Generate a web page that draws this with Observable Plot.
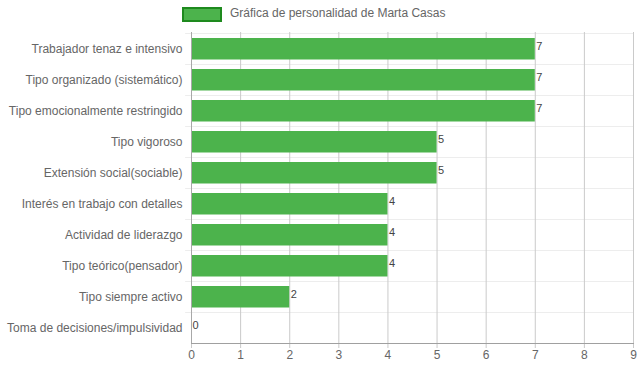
<!DOCTYPE html>
<html>
<head>
<meta charset="utf-8">
<script src="https://cdn.jsdelivr.net/npm/d3@7"></script>
<script src="https://cdn.jsdelivr.net/npm/@observablehq/plot@0.6"></script>
<style>
  body { margin: 0; background: #fff; font-family: "Liberation Sans", Arial, sans-serif; }
  #wrap { position: relative; width: 639px; height: 372px; }
  #legend { position: absolute; left: 0; top: 0; width: 639px; height: 30px; }
  #legend .box { position: absolute; left: 182px; top: 7px; width: 36px; height: 11px; background: #4cb34c; border: 2px solid #1e8a1e; }
  #legend .lbl { position: absolute; left: 230px; top: 6px; font-size: 12px; color: #666; white-space: nowrap; }
  #chart { position: absolute; left: 0; top: 30px; }
</style>
</head>
<body>
<div id="wrap">
  <div id="legend"><div class="box"></div><div class="lbl">Gráfica de personalidad de Marta Casas</div></div>
  <div id="chart"></div>
</div>
<script>
const categories = [
  "Trabajador tenaz e intensivo",
  "Tipo organizado (sistemático)",
  "Tipo emocionalmente restringido",
  "Tipo vigoroso",
  "Extensión social(sociable)",
  "Interés en trabajo con detalles",
  "Actividad de liderazgo",
  "Tipo teórico(pensador)",
  "Tipo siempre activo",
  "Toma de decisiones/impulsividad"
];
const values = [7, 7, 7, 5, 5, 4, 4, 4, 2, 0];
const xTicks = [0, 1, 2, 3, 4, 5, 6, 7, 8, 9];

const data = categories.map((c, i) => ({category: c, value: values[i]}));

const svgH = 342, mTop = 2, mBottom = 29;
const bw = (svgH - mTop - mBottom) / categories.length;

const chart = Plot.plot({
  width: 639,
  height: svgH,
  marginTop: mTop,
  marginBottom: mBottom,
  marginLeft: 191,
  marginRight: 6,
  style: {fontFamily: "'Liberation Sans', Arial, sans-serif", fontSize: "12px", color: "#666", background: "#fff"},
  x: {domain: [0, 9], label: null},
  y: {domain: categories, padding: 0, label: null},
  marks: [
    Plot.barX(categories, {y: d => d, x1: -0.12, x2: 9, fill: "#ebebeb", insetBottom: bw - 1}),
    Plot.ruleX(xTicks, {stroke: "#cacaca", strokeWidth: 1}),
    Plot.axisX({ticks: xTicks, tickSize: 5, tickPadding: 2, stroke: "#cacaca", fill: "#666", label: null}),
    Plot.axisY({tickSize: 0, tickPadding: 9, fill: "#666", label: null}),
    Plot.barX(data, {y: "category", x: "value", fill: "#4cb34c", insetTop: 5, insetBottom: 4.5}),
    Plot.frame({anchor: "bottom", stroke: "#a0a0a0"}),
    Plot.ruleX([0], {stroke: "#a8a8a8"}),
    Plot.text(data, {y: "category", x: "value", text: d => String(d.value), textAnchor: "start", dx: 1, dy: -3, fill: "#444", fontSize: 11})
  ]
});
document.getElementById("chart").appendChild(chart);
</script>
</body>
</html>
